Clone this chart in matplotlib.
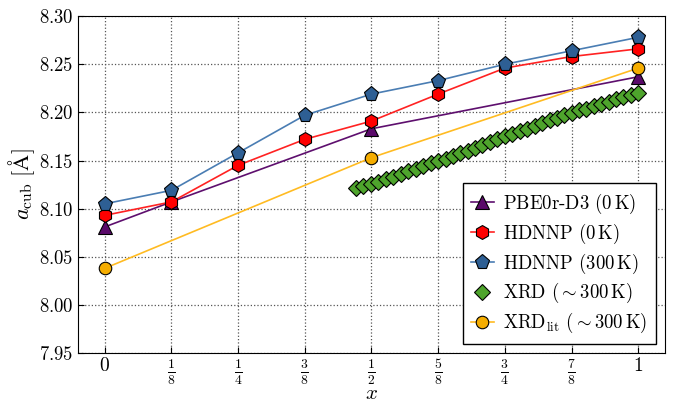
import matplotlib
matplotlib.use('Agg')
import matplotlib.pyplot as plt

plt.rcParams['mathtext.fontset'] = 'cm'
plt.rcParams['font.family'] = 'serif'
plt.rcParams['font.serif'] = ['cmr10', 'DejaVu Serif']
plt.rcParams['axes.formatter.use_mathtext'] = True

# composition x
x_pbe = [0, 1/8, 1/2, 1]
a_pbe = [8.081, 8.107, 8.183, 8.237]

x_nn = [0, 1/8, 1/4, 3/8, 1/2, 5/8, 3/4, 7/8, 1]
a_nn0 = [8.093, 8.107, 8.145, 8.172, 8.191, 8.219, 8.246, 8.258, 8.266]
a_nn300 = [8.105, 8.119, 8.158, 8.197, 8.219, 8.233, 8.250, 8.264, 8.278]

x_lit = [0, 1/2, 1]
a_lit = [8.038, 8.153, 8.246]

x_xrd = [0.471, 0.485, 0.499, 0.513, 0.527, 0.541, 0.555, 0.569, 0.583, 0.597,
         0.611, 0.625, 0.639, 0.652, 0.666, 0.680, 0.694, 0.708, 0.722, 0.736,
         0.750, 0.764, 0.778, 0.792, 0.806, 0.820, 0.834, 0.848, 0.861, 0.875,
         0.889, 0.903, 0.917, 0.931, 0.945, 0.959, 0.972, 0.986, 1.000]
a_xrd = [8.121, 8.123, 8.126, 8.128, 8.131, 8.133, 8.136, 8.139, 8.141, 8.144,
         8.147, 8.150, 8.152, 8.155, 8.158, 8.160, 8.163, 8.166, 8.169, 8.172,
         8.175, 8.178, 8.181, 8.183, 8.186, 8.189, 8.192, 8.194, 8.197, 8.199,
         8.202, 8.204, 8.207, 8.209, 8.211, 8.214, 8.216, 8.218, 8.220]

xticks = [0, 1/8, 1/4, 3/8, 1/2, 5/8, 3/4, 7/8, 1]
xticklabels = [r'$0$', r'$\frac{1}{8}$', r'$\frac{1}{4}$', r'$\frac{3}{8}$', r'$\frac{1}{2}$',
               r'$\frac{5}{8}$', r'$\frac{3}{4}$', r'$\frac{7}{8}$', r'$1$']
yticks = [7.95, 8.00, 8.05, 8.10, 8.15, 8.20, 8.25, 8.30]

fig = plt.figure(figsize=(6.73, 4.03), dpi=100)
ax = fig.add_axes([0.116, 0.124, 0.872, 0.836])

ax.plot(x_pbe, a_pbe, '-', marker='^', color='#5e0f6e', mfc='#5a0a6a', mec='k', mew=0.8, ms=10,
        lw=1.2, label=r'PBE0r-D3 (0$\,$K)', zorder=3)
ax.plot(x_nn, a_nn0, '-', marker='h', color='#ff2222', mfc='#ff0000', mec='k', mew=0.8, ms=10,
        lw=1.2, label=r'HDNNP (0$\,$K)', zorder=3)
ax.plot(x_nn, a_nn300, '-', marker='p', color='#4a7db3', mfc='#2e5f94', mec='k', mew=0.8, ms=11,
        lw=1.2, label=r'HDNNP (300$\,$K)', zorder=3)
ax.plot(x_xrd, a_xrd, ls='none', marker='D', mfc='#4ea42c', mec='k', mew=0.8, ms=8,
        label=r'XRD ($\sim$300$\,$K)', zorder=4)
ax.plot(x_lit, a_lit, '-', marker='o', color='#ffbb22', mfc='#f5ad00', mec='k', mew=0.8, ms=9,
        lw=1.2, label=r'XRD$_{\rm lit}$ ($\sim$300$\,$K)', zorder=3)

ax.set_xlim(-0.05, 1.05)
ax.set_ylim(7.95, 8.30)
ax.set_xticks(xticks)
ax.set_xticklabels(xticklabels)
ax.set_yticks(yticks)
ax.set_yticklabels([r'$%.2f$' % v for v in yticks])
ax.tick_params(direction='in', labelsize=13.5, length=4)
ax.tick_params(axis='x', labelsize=14, pad=3)
ax.grid(True, ls=':', color='#555555', lw=0.9)

ax.set_xlabel(r'$x$', fontsize=15, labelpad=-1)
ax.set_ylabel(r'$a_{\rm cub}\ [\mathrm{\AA}]$', fontsize=16, labelpad=1)

leg = ax.legend(loc='lower right', numpoints=1, fontsize=13.5, fancybox=False, framealpha=1,
                edgecolor='k', borderpad=0.45, labelspacing=0.3, handlelength=1.2,
                handletextpad=0.5, borderaxespad=0.5)
leg.get_frame().set_linewidth(1.0)

fig.savefig('out.png', dpi=100)
